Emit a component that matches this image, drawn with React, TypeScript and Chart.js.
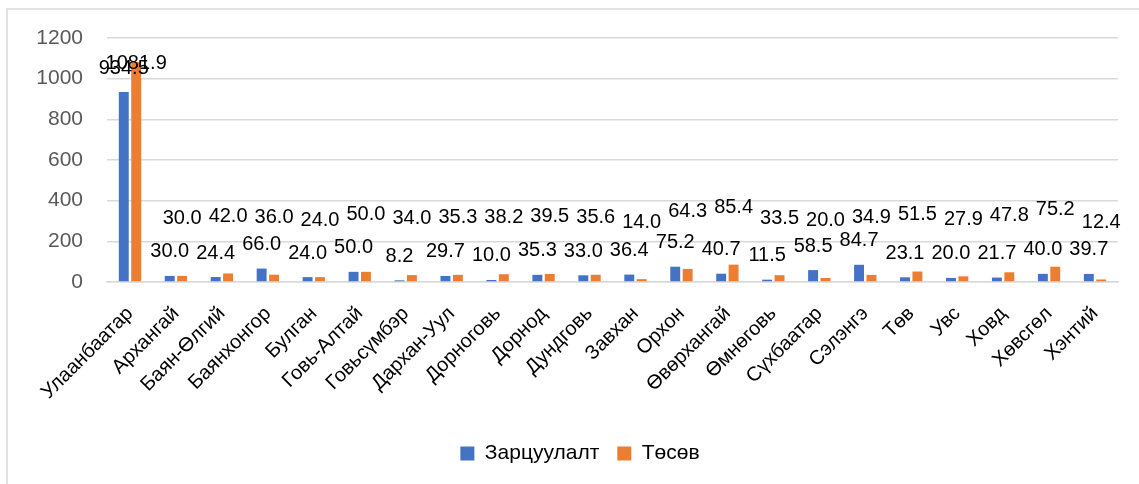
import React, { useEffect, useRef } from "react";
import { Chart, registerables } from "chart.js";

Chart.register(...registerables);

const categories = [
  "Улаанбаатар", "Архангай", "Баян-Өлгий", "Баянхонгор", "Булган", "Говь-Алтай",
  "Говьсүмбэр", "Дархан-Уул", "Дорноговь", "Дорнод", "Дундговь", "Завхан",
  "Орхон", "Өвөрхангай", "Өмнөговь", "Сүхбаатар", "Сэлэнгэ", "Төв", "Увс",
  "Ховд", "Хөвсгөл", "Хэнтий",
];

const spending = [
  934.5, 30.0, 24.4, 66.0, 24.0, 50.0, 8.2, 29.7, 10.0, 35.3, 33.0, 36.4,
  75.2, 40.7, 11.5, 58.5, 84.7, 23.1, 20.0, 21.7, 40.0, 39.7,
];

const budget = [
  1081.9, 30.0, 42.0, 36.0, 24.0, 50.0, 34.0, 35.3, 38.2, 39.5, 35.6, 14.0,
  64.3, 85.4, 33.5, 20.0, 34.9, 51.5, 27.9, 47.8, 75.2, 12.4,
];

const seriesNames = ["Зарцуулалт", "Төсөв"];
const seriesColors = ["#4472C4", "#ED7D31"];
const yMin = 0;
const yMax = 1200;
const yStep = 200;

const FONT = "'Liberation Sans', 'DejaVu Sans', sans-serif";
const labelOffsets = [24, 57];

const dataLabelPlugin = {
  id: "dataLabels",
  afterDatasetsDraw(chart: any) {
    const ctx = chart.ctx;
    ctx.save();
    ctx.font = `20px ${FONT}`;
    ctx.fillStyle = "#000000";
    ctx.textAlign = "center";
    ctx.textBaseline = "middle";
    chart.data.datasets.forEach((ds: any, i: number) => {
      const meta = chart.getDatasetMeta(i);
      meta.data.forEach((bar: any, j: number) => {
        const v = ds.data[j] as number;
        let y = bar.y - labelOffsets[i];
        y = Math.max(y, chart.chartArea.top + 25);
        ctx.fillText(v.toFixed(1), bar.x, y);
      });
    });
    ctx.restore();
  },
};

const borderPlugin = {
  id: "outerBorder",
  afterLayout(chart: any) {
    if (chart.legend) {
      chart.legend.left += 42;
    }
  },
  beforeDraw(chart: any) {
    const ctx = chart.ctx;
    ctx.save();
    ctx.fillStyle = "#ffffff";
    ctx.fillRect(0, 0, chart.width, chart.height);
    ctx.strokeStyle = "#d9d9d9";
    ctx.lineWidth = 1.5;
    ctx.beginPath();
    ctx.moveTo(7, chart.height);
    ctx.lineTo(7, 9);
    ctx.lineTo(chart.width, 9);
    ctx.stroke();
    ctx.restore();
  },
};

export default function App() {
  const ref = useRef<HTMLCanvasElement | null>(null);

  useEffect(() => {
    if (!ref.current) return;
    const chart = new Chart(ref.current, {
      type: "bar",
      data: {
        labels: categories,
        datasets: [
          {
            label: seriesNames[0],
            data: spending,
            backgroundColor: seriesColors[0],
            categoryPercentage: 0.54,
            barPercentage: 0.8,
          },
          {
            label: seriesNames[1],
            data: budget,
            backgroundColor: seriesColors[1],
            categoryPercentage: 0.54,
            barPercentage: 0.8,
          },
        ],
      },
      options: {
        responsive: false,
        animation: false,
        layout: { padding: { left: 0, right: 21, top: 38, bottom: 10 } },
        plugins: {
          legend: {
            position: "bottom",
            labels: {
              boxWidth: 14,
              boxHeight: 14,
              padding: 18,
              color: "#000000",
              font: { family: FONT, size: 21 },
            },
          },
          tooltip: { enabled: false },
        },
        scales: {
          x: {
            grid: { display: false, drawTicks: false },
            border: { display: true, color: "#d9d9d9", width: 1.5 },
            ticks: {
              autoSkip: false,
              maxRotation: 45,
              minRotation: 45,
              padding: 20,
              color: "#000000",
              font: { family: FONT, size: 20 },
            },
            afterFit(scale: any) {
              scale.height = 143;
            },
          },
          y: {
            min: yMin,
            max: yMax,
            grid: { color: "#d9d9d9", lineWidth: 1.5, drawTicks: false },
            border: { display: false },
            ticks: {
              stepSize: yStep,
              padding: 24,
              color: "#595959",
              font: { family: FONT, size: 21 },
              callback: (v: any) => String(v),
            },
            afterFit(scale: any) {
              scale.width = 107;
            },
          },
        },
      },
      plugins: [dataLabelPlugin, borderPlugin],
    });
    return () => chart.destroy();
  }, []);

  return (
    <div style={{ position: "fixed", left: 0, top: 0, width: 1139, height: 484, background: "#fff" }}>
      <canvas ref={ref} width={1139} height={484} style={{ display: "block" }} />
    </div>
  );
}
